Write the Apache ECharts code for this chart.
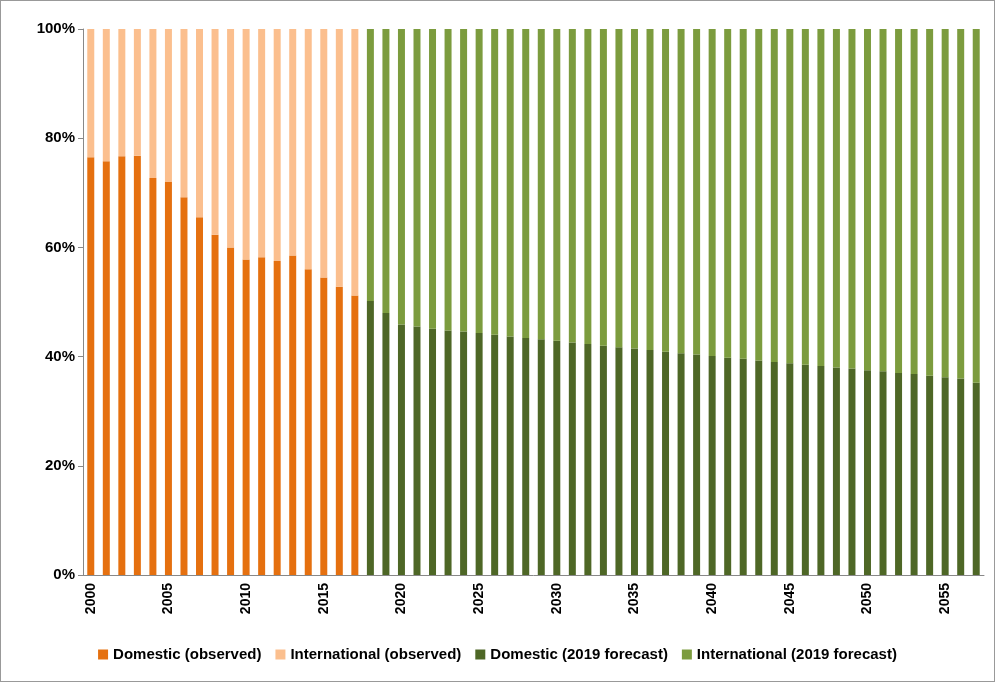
<!DOCTYPE html><html><head><meta charset="utf-8"><script src="https://cdn.jsdelivr.net/npm/echarts@6/dist/echarts.min.js"></script>
<style>html,body{margin:0;padding:0;background:#fff}#c{width:995px;height:682px;box-sizing:border-box;border:1px solid #999}</style></head><body><div id="c"></div><script>
const years=[];for(let y=2000;y<=2057;y++)years.push(String(y));
const domObs=[76.5,75.8,76.7,76.8,72.7,72.0,69.2,65.5,62.3,60.0,57.8,58.2,57.5,58.5,56.0,54.5,52.8,51.2];
const domFc=[50.2,48.0,45.9,45.5,45.1,44.8,44.6,44.3,44.0,43.7,43.4,43.2,42.9,42.6,42.3,42.0,41.7,41.5,41.2,40.9,40.6,40.4,40.1,39.8,39.6,39.3,39.0,38.8,38.5,38.3,38.0,37.8,37.5,37.3,37.0,36.8,36.5,36.2,36.0,35.2];
const nObs=domObs.length;
const s1=years.map((y,i)=>i<nObs?domObs[i]:null);
const s2=years.map((y,i)=>i<nObs?+(100-domObs[i]).toFixed(1):null);
const s3=years.map((y,i)=>i>=nObs?domFc[i-nObs]:null);
const s4=years.map((y,i)=>i>=nObs?+(100-domFc[i-nObs]).toFixed(1):null);
const ch=echarts.init(document.getElementById('c'));
const F='"Liberation Sans",Arial,sans-serif';
function bar(name,data,color){return{name,type:'bar',stack:'a',data,itemStyle:{color},barCategoryGap:'55%'};}
ch.setOption({
 animation:false,
 grid:{left:82,right:10,top:28,bottom:106},
 xAxis:{type:'category',data:years,axisTick:{show:false},axisLine:{lineStyle:{color:'#888'}},
  axisLabel:{rotate:90,interval:(i,v)=>(+v)%5===0,fontFamily:F,fontWeight:'bold',fontSize:14,color:'#000'}},
 yAxis:{type:'value',min:0,max:100,interval:20,splitLine:{show:false},axisLine:{show:true,lineStyle:{color:'#888'}},axisTick:{show:true,lineStyle:{color:'#888'}},
  axisLabel:{formatter:'{value}%',fontFamily:F,fontWeight:'bold',fontSize:15,color:'#000'}},
 legend:{bottom:14,left:'center',itemWidth:10,itemHeight:10,itemGap:14,icon:'rect',textStyle:{fontFamily:F,fontWeight:'bold',fontSize:15,color:'#000'}},
 series:[bar('Domestic (observed)',s1,'#e5700f'),bar('International (observed)',s2,'#fbbf8e'),bar('Domestic (2019 forecast)',s3,'#4e6726'),bar('International (2019 forecast)',s4,'#7c9c3e')]
});
</script></body></html>
